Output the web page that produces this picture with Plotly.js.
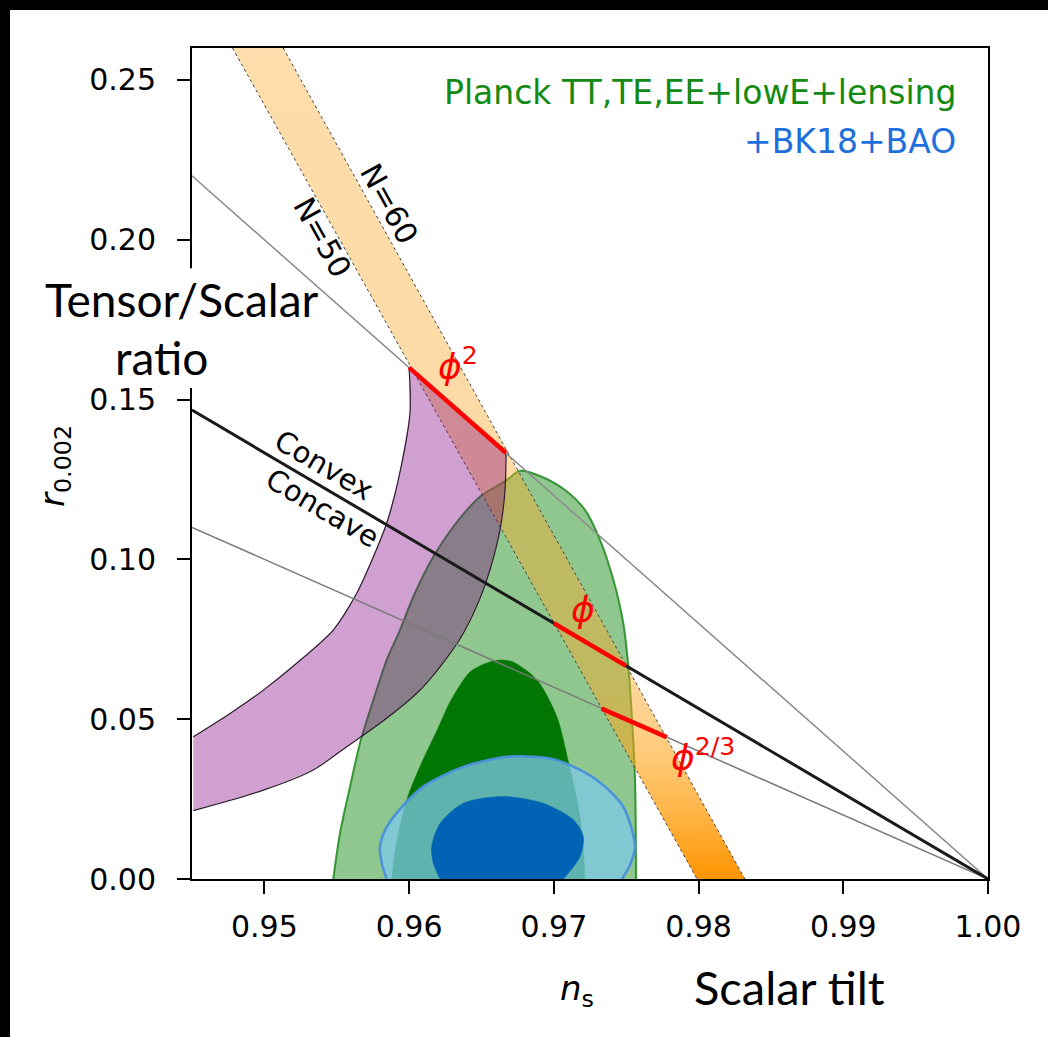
<!DOCTYPE html>
<html>
<head>
<meta charset="utf-8">
<script src="https://cdn.plot.ly/plotly-3.0.1.min.js"></script>
<style>
  html, body { margin: 0; padding: 0; background: #000; width: 1048px; height: 1037px; overflow: hidden; }
  #chart { position: absolute; left: 10px; top: 10px; width: 1038px; height: 1027px; background: #fff; }
</style>
</head>
<body>
<div id="chart"></div>
<script>
// ---------- axis ticks ----------
const nsTicks = [0.95, 0.96, 0.97, 0.98, 0.99, 1.00];
const nsTickText = ['0.95', '0.96', '0.97', '0.98', '0.99', '1.00'];
const rTicks = [0.00, 0.05, 0.10, 0.15, 0.20, 0.25];
const rTickText = ['0.00', '0.05', '0.10', '0.15', '0.20', '0.25'];

// ---------- Planck TT,TE,EE+lowE+lensing (95% outer, 68% inner) ----------
const planckOuterNs = [0.95476, 0.95523, 0.95592, 0.95661, 0.95753, 0.95845, 0.95937, 0.96029, 0.96167, 0.96305, 0.96490, 0.96674, 0.96766, 0.96904, 0.97077, 0.97215, 0.97319, 0.97411, 0.97480, 0.97515, 0.97538, 0.97561, 0.97568];
const planckOuterR  = [0.0000, 0.0144, 0.0289, 0.0425, 0.0560, 0.0685, 0.0779, 0.0883, 0.1008, 0.1102, 0.1196, 0.1248, 0.1277, 0.1261, 0.1217, 0.1155, 0.1061, 0.0936, 0.0800, 0.0664, 0.0518, 0.0310, 0.0000];
const planckInnerNs = [0.95880, 0.95895, 0.95930, 0.95995, 0.96095, 0.96200, 0.96290, 0.96421, 0.96538, 0.96628, 0.96718, 0.96884, 0.97022, 0.97098, 0.97160, 0.97195, 0.97215];
const planckInnerR  = [0.0000, 0.0059, 0.0153, 0.0263, 0.0372, 0.0472, 0.0560, 0.0648, 0.0676, 0.0685, 0.0679, 0.0623, 0.0507, 0.0372, 0.0247, 0.0144, 0.0000];

// ---------- +BK18+BAO (95% outer, 68% inner) ----------
const bkOuterNs = [0.95845, 0.95811, 0.95799, 0.95834, 0.95914, 0.96098, 0.96375, 0.96697, 0.97020, 0.97296, 0.97480, 0.97561, 0.97526, 0.97471];
const bkOuterR  = [0.0000, 0.0050, 0.0101, 0.0153, 0.0206, 0.0289, 0.0351, 0.0383, 0.0372, 0.0310, 0.0226, 0.0101, 0.0044, 0.0000];
const bkInnerNs = [0.96214, 0.96167, 0.96156, 0.96214, 0.96375, 0.96651, 0.96927, 0.97135, 0.97204, 0.97181, 0.97066];
const bkInnerR  = [0.0000, 0.0050, 0.0101, 0.0174, 0.0237, 0.0258, 0.0237, 0.0185, 0.0132, 0.0070, 0.0000];

// ---------- N = 50 and N = 60 band edges ----------
const n50Ns = [0.9478, 0.9799];
const n50R  = [0.26, 0.00];
const n60Ns = [0.9513, 0.9832];
const n60R  = [0.26, 0.00];

// ---------- natural inflation region ----------
const naturalUpperNs = [0.96000, 0.96006, 0.95925, 0.95845, 0.95753, 0.95638, 0.95476, 0.95223, 0.94993, 0.94763, 0.94509];
const naturalUpperR  = [0.1600, 0.1457, 0.1248, 0.1113, 0.1008, 0.0894, 0.0779, 0.0675, 0.0591, 0.0518, 0.0445];
const naturalLowerNs = [0.96670, 0.96663, 0.96628, 0.96559, 0.96490, 0.96375, 0.96214, 0.96053, 0.95799, 0.95569, 0.95338, 0.94993, 0.94509];
const naturalLowerR  = [0.1333, 0.1217, 0.1092, 0.0967, 0.0878, 0.0769, 0.0664, 0.0581, 0.0487, 0.0414, 0.0341, 0.0278, 0.0214];

// ---------- straight lines converging on (1, 0) ----------
const phi2LineNs = [0.945, 1.000];
const phi2LineR  = [0.2200, 0.0];
const linearLineNs = [0.945, 1.000];
const linearLineR  = [0.1467, 0.0];
const phi23LineNs = [0.945, 1.000];
const phi23LineR  = [0.1100, 0.0];

// ---------- monomial predictions N = 50..60 ----------
const phi2SegNs  = [0.9600, 0.9667];
const phi2SegR   = [0.1600, 0.1333];
const phi1SegNs  = [0.9700, 0.9750];
const phi1SegR   = [0.0800, 0.0667];
const phi23SegNs = [0.9733, 0.9778];
const phi23SegR  = [0.0533, 0.0444];

// polygons built from the edges above
const bandNs = n50Ns.concat(n60Ns.slice().reverse());
const bandR  = n50R.concat(n60R.slice().reverse());
const naturalNs = naturalUpperNs.concat(naturalLowerNs.slice().reverse());
const naturalR  = naturalUpperR.concat(naturalLowerR.slice().reverse());

const sp = { shape: 'spline', smoothing: 0.8 };

const traces = [
  { x: planckOuterNs, y: planckOuterR, type: 'scatter', mode: 'lines', fill: 'toself',
    fillcolor: 'rgba(0,128,0,0.44)', line: Object.assign({ color: 'rgba(45,145,45,0.95)', width: 2 }, sp) },
  { x: planckInnerNs, y: planckInnerR, type: 'scatter', mode: 'lines', fill: 'toself',
    fillcolor: '#027602', line: Object.assign({ color: '#027602', width: 0.5 }, sp) },
  { x: bkOuterNs, y: bkOuterR, type: 'scatter', mode: 'lines', fill: 'toself',
    fillcolor: 'rgba(125,200,232,0.75)', line: Object.assign({ color: '#4a93dc', width: 2.5 }, sp) },
  { x: bkInnerNs, y: bkInnerR, type: 'scatter', mode: 'lines', fill: 'toself',
    fillcolor: '#0063b3', line: Object.assign({ color: '#0063b3', width: 0.5 }, sp) },
  { x: bandNs, y: bandR, type: 'scatter', mode: 'lines', fill: 'toself',
    line: { width: 0 },
    fillgradient: { type: 'vertical', start: 0, stop: 0.26,
      colorscale: [[0, 'rgba(255,148,0,1)'], [0.077, 'rgba(255,158,15,0.78)'], [0.154, 'rgba(254,164,25,0.57)'],
                   [0.25, 'rgba(252,168,40,0.44)'], [1, 'rgba(250,170,45,0.40)']] } },
  { x: n50Ns, y: n50R, type: 'scatter', mode: 'lines', line: { color: '#444', width: 1, dash: 'dot' } },
  { x: n60Ns, y: n60R, type: 'scatter', mode: 'lines', line: { color: '#444', width: 1, dash: 'dot' } },
  { x: naturalNs, y: naturalR, type: 'scatter', mode: 'lines', fill: 'toself',
    fillcolor: 'rgba(128,0,128,0.37)', line: { width: 0 } },
  { x: naturalUpperNs, y: naturalUpperR, type: 'scatter', mode: 'lines',
    line: Object.assign({ color: '#2d1a2d', width: 1.2 }, sp) },
  { x: naturalLowerNs, y: naturalLowerR, type: 'scatter', mode: 'lines',
    line: Object.assign({ color: '#2d1a2d', width: 1.2 }, sp) },
  { x: phi2LineNs, y: phi2LineR, type: 'scatter', mode: 'lines', line: { color: '#8a8a8a', width: 1.5 } },
  { x: phi23LineNs, y: phi23LineR, type: 'scatter', mode: 'lines', line: { color: '#7a7a7a', width: 1.5 } },
  { x: linearLineNs, y: linearLineR, type: 'scatter', mode: 'lines', line: { color: '#1a1a1a', width: 3 } },
  { x: phi2SegNs, y: phi2SegR, type: 'scatter', mode: 'lines', line: { color: '#ff0000', width: 4.5 } },
  { x: phi1SegNs, y: phi1SegR, type: 'scatter', mode: 'lines', line: { color: '#ff0000', width: 4.5 } },
  { x: phi23SegNs, y: phi23SegR, type: 'scatter', mode: 'lines', line: { color: '#ff0000', width: 4.5 } }
];

const mathFont = 'DejaVu Sans';
const boxFont = 'Lato';

function paperNote(x, y, text, font, extra) {
  return Object.assign({ xref: 'paper', yref: 'paper', x: x, y: y, xanchor: 'center', yanchor: 'middle',
    showarrow: false, text: text, font: font }, extra || {});
}
function dataNote(x, y, text, font, extra) {
  return Object.assign({ xref: 'x', yref: 'y', x: x, y: y, xanchor: 'center', yanchor: 'middle',
    showarrow: false, text: text, font: font }, extra || {});
}

const layout = {
  width: 1038, height: 1027,
  paper_bgcolor: '#ffffff', plot_bgcolor: '#ffffff',
  margin: { l: 182, r: 60, t: 38, b: 158 },
  showlegend: false,
  hovermode: false,
  xaxis: {
    range: [0.945, 1.0], tickvals: nsTicks, ticktext: nsTickText,
    showgrid: false, zeroline: false, showline: true, mirror: true, linecolor: '#000', linewidth: 2,
    ticks: 'outside', ticklen: 13, tickwidth: 2, tickcolor: '#000', ticklabelstandoff: 7,
    tickfont: { family: mathFont, size: 30, color: '#000' }
  },
  yaxis: {
    range: [0, 0.26], tickvals: rTicks, ticktext: rTickText,
    showgrid: false, zeroline: false, showline: true, mirror: true, linecolor: '#000', linewidth: 2,
    ticks: 'outside', ticklen: 13, tickwidth: 2, tickcolor: '#000', ticklabelstandoff: 15,
    tickfont: { family: mathFont, size: 30, color: '#000' }
  },
  shapes: [
    // the pasted "Tensor/Scalar ratio" label hides this stretch of the left spine
    { type: 'rect', xref: 'paper', yref: 'paper', x0: -0.008, x1: 0.008, y0: 0.591, y1: 0.735,
      fillcolor: '#ffffff', line: { width: 0 }, layer: 'above' }
  ],
  annotations: [
    paperNote(0.9623, 0.9459, 'Planck TT,TE,EE+lowE+lensing', { family: mathFont, size: 33, color: '#138a13' }, { xanchor: 'right' }),
    paperNote(0.9623, 0.8869, '+BK18+BAO', { family: mathFont, size: 33, color: '#1f6fdc' }, { xanchor: 'right' }),
    dataNote(0.9586, 0.2112, 'N=60', { family: mathFont, size: 30, color: '#000' }, { textangle: 61 }),
    dataNote(0.9540, 0.2006, 'N=50', { family: mathFont, size: 30, color: '#000' }, { textangle: 61 }),
    dataNote(0.9541, 0.1295, 'Convex', { family: mathFont, size: 29, color: '#000' }, { textangle: 30.4 }),
    dataNote(0.9540, 0.1161, 'Concave', { family: mathFont, size: 29, color: '#000' }, { textangle: 30.4 }),
    dataNote(0.9634, 0.1610, '<i>ϕ</i><sup>2</sup>', { family: mathFont, size: 36, color: '#ff0000' }),
    dataNote(0.9720, 0.0842, '<i>ϕ</i>', { family: mathFont, size: 36, color: '#ff0000' }),
    dataNote(0.9803, 0.0388, '<i>ϕ</i><sup>2/3</sup>', { family: mathFont, size: 36, color: '#ff0000' }),
    paperNote(-0.1721, 0.497, '<i>r</i><sub>0.002</sub>', { family: mathFont, size: 34, color: '#000' }, { textangle: -90 }),
    paperNote(0.4837, -0.1336, '<i>n</i><sub>s</sub>', { family: mathFont, size: 34, color: '#000' }),
    paperNote(0.75, -0.130, 'Scalar tilt', { family: boxFont, size: 47, color: '#000' }),
    paperNote(-0.0138, 0.6968, 'Tensor/Scalar', { family: boxFont, size: 46, color: '#000' }),
    paperNote(-0.0389, 0.627, 'ratio', { family: boxFont, size: 46, color: '#000' })
  ]
};

Plotly.newPlot('chart', traces, layout, { displayModeBar: false, staticPlot: true });
</script>
</body>
</html>
